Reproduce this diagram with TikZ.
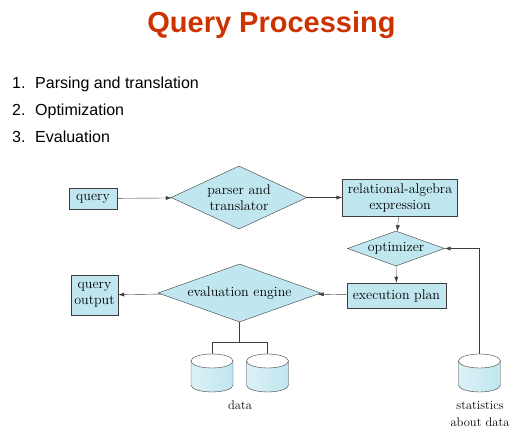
\documentclass[tikz,border=0pt]{standalone}
\usepackage{fontspec}
\usetikzlibrary{shapes.geometric,arrows.meta}
\newfontfamily\slidefont{Liberation Sans}
\definecolor{titlered}{RGB}{204,51,0}
\definecolor{boxblue}{RGB}{192,230,240}
\definecolor{edgegray}{RGB}{60,60,60}

\begin{document}
\begin{tikzpicture}[x=1pt,y=-1pt,
    box/.style={draw=edgegray,fill=boxblue,inner sep=0pt,align=center,
        font=\fontsize{14}{16}\selectfont},
    decision/.style={diamond,draw=edgegray,fill=boxblue,inner sep=0pt,align=center,
        font=\fontsize{14}{16}\selectfont},
    conn/.style={draw=edgegray,-{Latex[length=6pt,width=4pt]}},
    tag/.style={align=center,font=\fontsize{12.5}{17}\selectfont}]

% Fix the page to the slide size.
\useasboundingbox (0,0) rectangle (529,436);

% Slide title.
\node[anchor=base,text=titlered,font=\slidefont\bfseries\fontsize{29}{32}\selectfont]
    (title) at (271.5,33) {Query Processing};

% Loop for each numbered step.
\foreach \y/\n/\t in {88/1/Parsing and translation,115/2/Optimization,142/3/Evaluation} {
    \node[anchor=base west,inner sep=0pt,font=\slidefont\fontsize{16}{18}\selectfont]
        (num\n) at (12,\y) {\n.};
    \node[anchor=base west,inner sep=0pt,font=\slidefont\fontsize{16}{18}\selectfont]
        (step\n) at (35,\y) {\t};
}

% Top row of the flow.
\node[box,minimum width=48pt,minimum height=21pt] (query) at (93,198.5) {query};
\node[decision,minimum width=136pt,minimum height=63pt,aspect=2.16]
    (parser) at (239,197.5) {parser and\\translator};
\node[box,minimum width=115pt,minimum height=37pt]
    (relexpr) at (400,197.5) {relational-algebra\\expression};

% Right column.
\node[decision,minimum width=97pt,minimum height=35pt,aspect=2.77]
    (optimizer) at (396,248.5) {optimizer};
\node[box,minimum width=99pt,minimum height=25pt] (plan) at (396.5,295.5) {execution plan};

% Bottom row.
\node[decision,minimum width=163pt,minimum height=58pt,aspect=2.81]
    (engine) at (239.5,293) {evaluation engine};
\node[box,minimum width=47pt,minimum height=40pt] (output) at (94.5,295) {query\\output};

% Loop for each data store (disk drum).
\foreach \c/\x in {data1/212,data2/267.5,stats/479.5} {

    % Drum body, round at the bottom.
    \draw[draw=edgegray,left color=boxblue!55,right color=boxblue]
        (\x-21,361) -- (\x-21,385)
        arc[start angle=180,end angle=360,x radius=21pt,y radius=7pt]
        -- (\x+21,361) -- cycle;

    % Drum lid. End loop.
    \draw[draw=edgegray,fill=white] (\x,361) ellipse[x radius=21pt,y radius=7pt];
    \coordinate (\c) at (\x,354);
}
\node[tag] (datatag) at (240,405) {data};
\node[tag] (statstag) at (480,413.5) {statistics\\about data};

% Arrows of the flow.
\draw[conn] (query) -- (parser);
\draw[conn] (parser) -- (relexpr);
\draw[conn] (relexpr) -- (optimizer);
\draw[conn] (optimizer) -- (plan);
\draw[conn] (plan) -- (engine);
\draw[conn] (engine) -- (output);
\draw[conn] (stats) |- (optimizer.east);

% Engine reads both data stores.
\draw[draw=edgegray] (engine.south) -- ++(0,20) coordinate (split);
\draw[draw=edgegray] (data1) |- (split) -| (data2);

\end{tikzpicture}
\end{document}
